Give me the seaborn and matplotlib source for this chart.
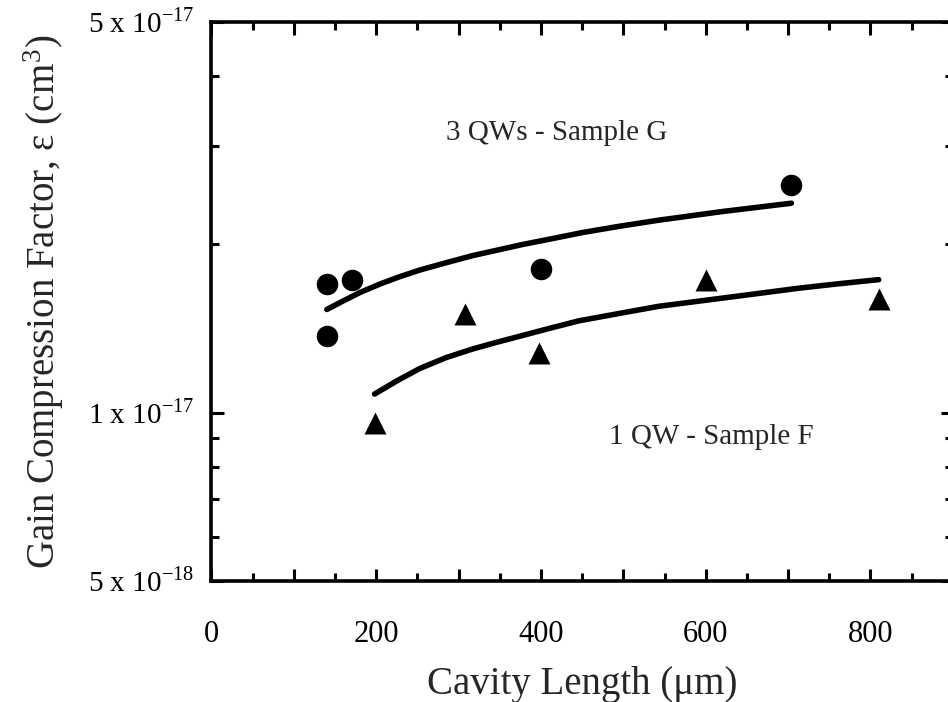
import numpy as np
import pandas as pd
import matplotlib
matplotlib.use("Agg")
import matplotlib.pyplot as plt
import matplotlib.ticker as mticker
import seaborn as sns

# ---- data ----
circ_x = [140, 140, 170, 400, 703]
circ_y = [1.70e-17, 1.37e-17, 1.73e-17, 1.81e-17, 2.55e-17]
tri_x = [199, 308, 398, 600, 810]
tri_y = [9.6e-18, 1.50e-17, 1.28e-17, 1.73e-17, 1.60e-17]
fitG_x = [140, 160, 180, 205, 228, 253, 285, 317, 348, 378, 415, 450, 495, 543, 620, 704]
fitG_y = [1.53e-17, 1.585e-17, 1.64e-17, 1.70e-17, 1.75e-17, 1.80e-17, 1.855e-17, 1.91e-17,
          1.955e-17, 2.00e-17, 2.05e-17, 2.10e-17, 2.155e-17, 2.21e-17, 2.29e-17, 2.37e-17]
fitF_x = [198, 225, 253, 285, 317, 345, 374, 410, 446, 495, 543, 630, 713, 760, 810]
fitF_y = [1.08e-17, 1.14e-17, 1.20e-17, 1.255e-17, 1.30e-17, 1.335e-17, 1.37e-17, 1.415e-17,
          1.46e-17, 1.505e-17, 1.55e-17, 1.61e-17, 1.67e-17, 1.70e-17, 1.73e-17]
xticks = [0, 200, 400, 600, 800]
ymajor = [5e-18, 1e-17, 5e-17]
ymajor_labels = ["5 x 10$^{\\mathregular{-18}}$", "1 x 10$^{\\mathregular{-17}}$", "5 x 10$^{\\mathregular{-17}}$"]
yminor = [6e-18, 7e-18, 8e-18, 9e-18, 2e-17, 3e-17, 4e-17]

sns.set_style("ticks")
plt.rcParams["font.family"] = ["Liberation Serif", "DejaVu Serif"]
plt.rcParams["mathtext.fontset"] = "stix"

fig = plt.figure(figsize=(9.48, 7.02), dpi=100)
ax = fig.add_axes([0.2231, 0.1724, 0.7820, 0.7963])

dfG = pd.DataFrame({"x": fitG_x, "y": fitG_y})
dfF = pd.DataFrame({"x": fitF_x, "y": fitF_y})
sns.lineplot(data=dfG, x="x", y="y", ax=ax, color="black", lw=4.0, sort=False, estimator=None,
             solid_capstyle="round")
sns.lineplot(data=dfF, x="x", y="y", ax=ax, color="black", lw=4.0, sort=False, estimator=None,
             solid_capstyle="round")
sns.scatterplot(x=circ_x, y=circ_y, ax=ax, marker="o", s=240, color="black", edgecolor="black", linewidth=0, zorder=5)
sns.scatterplot(x=tri_x, y=tri_y, ax=ax, marker="^", s=250, color="black", edgecolor="black", linewidth=0, zorder=5)

ax.set_yscale("log")
ax.set_xlim(0, 900)
ax.set_ylim(5e-18, 5e-17)

ax.xaxis.set_major_locator(mticker.MultipleLocator(100))
ax.xaxis.set_minor_locator(mticker.MultipleLocator(50))
ax.xaxis.set_major_formatter(mticker.FuncFormatter(lambda v, p: f"{int(v)}" if int(v) in xticks else ""))
ax.yaxis.set_major_locator(mticker.FixedLocator(ymajor))
ax.yaxis.set_major_formatter(mticker.FixedFormatter(ymajor_labels))
ax.yaxis.set_minor_locator(mticker.FixedLocator(yminor))
ax.yaxis.set_minor_formatter(mticker.NullFormatter())

ax.tick_params(which="both", direction="in", top=True, right=True, width=2.2, colors="black")
ax.tick_params(which="major", length=9)
ax.tick_params(which="minor", length=6)
ax.tick_params(axis="x", which="major", labelsize=22, pad=28)
ax.tick_params(axis="y", which="major", labelsize=21, pad=12)
for s in ax.spines.values():
    s.set_linewidth(2.6)
    s.set_color("black")

ax.set_xlabel("Cavity Length (μm)", fontsize=28, labelpad=12)
ax.set_ylabel("Gain Compression Factor, ε (cm$^{\\mathregular{3}}$)", fontsize=28, labelpad=16)

ax.text(285, 3.17e-17, "3 QWs - Sample G", fontsize=21, va="center", ha="left")
ax.text(483, 9.04e-18, "1 QW - Sample F", fontsize=21, va="center", ha="left")

fig.savefig("out.png", dpi=100, facecolor="white")
